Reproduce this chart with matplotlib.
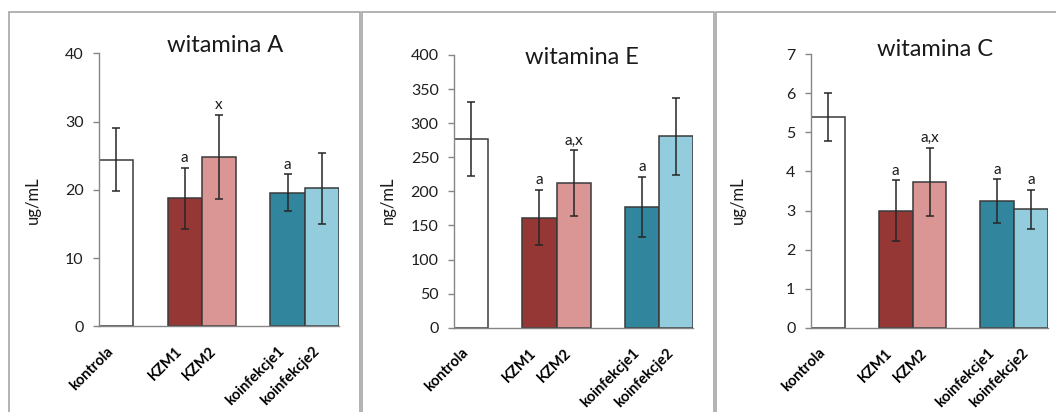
import matplotlib
matplotlib.use("Agg")
import matplotlib.pyplot as plt
from matplotlib.patches import Rectangle
from matplotlib.transforms import ScaledTranslation

plt.rcParams['font.family'] = ['Lato', 'DejaVu Sans']

categories = ['kontrola', 'KZM1', 'KZM2', 'koinfekcje1', 'koinfekcje2']

vitA_mean = [24.4, 18.75, 24.8, 19.6, 20.2]
vitA_err = [4.6, 4.45, 6.2, 2.7, 5.15]
vitA_marks = ['', 'a', 'x', 'a', '']

vitE_mean = [277, 161.5, 212, 177.5, 281]
vitE_err = [54, 40.5, 48.5, 44, 56.5]
vitE_marks = ['', 'a', 'a,x', 'a', '']

vitC_mean = [5.40, 3.00, 3.74, 3.24, 3.03]
vitC_err = [0.62, 0.77, 0.87, 0.56, 0.50]
vitC_marks = ['', 'a', 'a,x', 'a', 'a']

titles = ['witamina A', 'witamina E', 'witamina C']
ylabels = ['ug/mL', 'ng/mL', 'ug/mL']
yticks_list = [[0, 10, 20, 30, 40],
               [0, 50, 100, 150, 200, 250, 300, 350, 400],
               [0, 1, 2, 3, 4, 5, 6, 7]]

bar_colors = ['#FFFFFF', '#953735', '#D99694', '#31859C', '#93CDDD']
positions = [0, 2, 3, 5, 6]

W, H = 1056, 412
fig = plt.figure(figsize=(W / 100, H / 100), dpi=100)


def px_axes(x0, x1, ytop, ybot):
    return fig.add_axes([x0 / W, 1 - ybot / H, (x1 - x0) / W, (ybot - ytop) / H])


# panel frames
for fx0, fx1 in [(8.5, 360), (362, 714), (716, 1070)]:
    fig.add_artist(Rectangle((fx0 / W, -0.1), (fx1 - fx0) / W, 1.1 - 12.5 / H,
                             transform=fig.transFigure, fill=False,
                             edgecolor='#A6A6A6', linewidth=1.2))

axes_px = [(99, 339, 53.3, 326.3), (454, 693.3, 55, 327.7), (810.7, 1048.3, 54.3, 327.7)]
title_x = [225, 582, 935]
title_y = [46, 58, 50]
ylab_x = [33, 388, 738]

datasets = [(vitA_mean, vitA_err, vitA_marks),
            (vitE_mean, vitE_err, vitE_marks),
            (vitC_mean, vitC_err, vitC_marks)]

for i, (means, errs, marks) in enumerate(datasets):
    ax = px_axes(*axes_px[i])
    ax.bar(positions, means, width=1.0, color=bar_colors, edgecolor='#3A3A3A',
           linewidth=1.1, zorder=2)
    ax.errorbar(positions, means, yerr=errs, fmt='none', ecolor='#262626',
                elinewidth=1.1, capsize=3, capthick=1.1, zorder=3)
    for p, m, e, t in zip(positions, means, errs, marks):
        if t:
            ax.annotate(t, (p, m + e), xytext=(0, 4), textcoords='offset points',
                        ha='center', va='baseline', fontsize=11, color='#1a1a1a')
    yt = yticks_list[i]
    ax.set_ylim(yt[0], yt[-1])
    ax.set_xlim(-0.5, 6.5)
    ax.set_yticks(yt)
    ax.set_xticks(positions)
    ax.set_xticklabels(categories, rotation=45, ha='right', va='top',
                       fontweight='bold', fontsize=10.5)
    off = ScaledTranslation(4 / 100, 0, fig.dpi_scale_trans)
    for lab in ax.get_xticklabels():
        lab.set_transform(lab.get_transform() + off)
    ax.tick_params(axis='x', length=0, pad=13)
    ax.tick_params(axis='y', length=4, width=1, color='#868686', pad=7,
                   labelsize=11.5, labelcolor='#1f1f1f')
    for s in ['top', 'right']:
        ax.spines[s].set_visible(False)
    for s in ['left', 'bottom']:
        ax.spines[s].set_color('#868686')
        ax.spines[s].set_linewidth(1)
    ax.patch.set_alpha(0)
    fig.text(title_x[i] / W, 1 - title_y[i] / H, titles[i], ha='center', va='center',
             fontsize=17, color='#1a1a1a')
    fig.text(ylab_x[i] / W, 1 - 200 / H, ylabels[i], ha='center', va='center',
             rotation=90, fontsize=12, color='#1a1a1a')

fig.savefig('out.png', dpi=100)
